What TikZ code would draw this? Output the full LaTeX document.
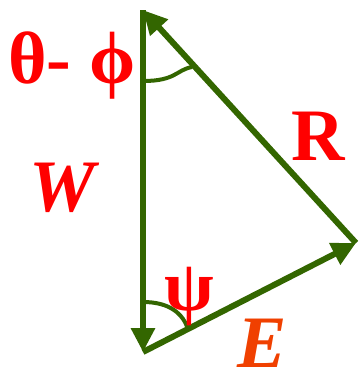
\documentclass[tikz,border=0pt]{standalone}
\usepackage{fontspec}
\setmainfont{Liberation Serif}
\usetikzlibrary{arrows.meta}
\definecolor{vecgreen}{HTML}{336600}
\definecolor{lblred}{HTML}{FF0000}
\definecolor{lblorange}{HTML}{F04000}

\begin{document}
\begin{tikzpicture}[x=1pt, y=-1pt,
  vec/.style={draw=vecgreen, line width=6pt,
              -{Triangle[length=24pt, width=23pt]}},
  ang/.style={draw=vecgreen, line width=4pt},
  lbl/.style={inner sep=0pt, text=lblred, font=\fontsize{74}{74}\selectfont\bfseries}]
  \useasboundingbox (0,0) rectangle (360,376);

  % triangle corners
  \coordinate (top) at (143,10);
  \coordinate (bot) at (143,352);
  \coordinate (rgt) at (356,243);

  % vectors
  \draw[vec] (top) -- (bot);
  \draw[vec] (bot) -- (rgt);
  \draw[vec] (rgt) -- (top);

  % angle marks
  \coordinate (a1) at (143,81);
  \coordinate (a2) at (192,67);
  \draw[ang] (a1) .. controls (176,81) and (176,70) .. (a2);
  \coordinate (b1) at (143,302);
  \coordinate (b2) at (188,329);
  \draw[ang] (b1) .. controls (170,302) and (183,314) .. (b2);

  % labels
  \node[lbl] (thphi) at (72,66) {θ- ϕ};
  \node[lbl, font=\fontsize{74}{74}\selectfont\bfseries\itshape] (W) at (62,188) {W};
  \node[lbl] (R) at (318,136) {R};
  \node[lbl, font=\fontsize{72}{72}\selectfont\bfseries] (psi) at (189,297) {ψ};
  \node[lbl, text=lblorange, font=\fontsize{74}{74}\selectfont\bfseries\itshape] (E) at (262,343) {E};
\end{tikzpicture}
\end{document}
